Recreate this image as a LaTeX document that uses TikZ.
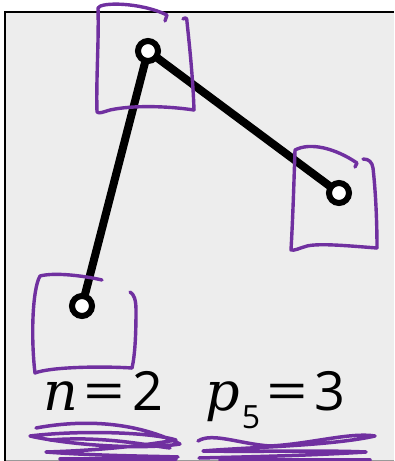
\documentclass[tikz,border=0pt]{standalone}
\usepackage{fontspec}
\newfontfamily\letterfont{DejaVu Serif}
\newfontfamily\digitsfont{Open Sans}
\usetikzlibrary{backgrounds}
\definecolor{pen}{RGB}{112,48,160}
\definecolor{paper}{RGB}{237,237,237}
\newcommand{\eqsign}{\kern6pt\scalebox{1.35}[1]{=}\kern7pt}

\tikzset{
  joint/.style={circle,draw=black,fill=white,line width=6pt,minimum size=20pt,inner sep=0pt},
  link/.style={line width=8pt,black},
  box/.style={pen,line width=3.4pt,line cap=round,line join=round},
  scribble/.style={pen,line width=3.5pt,line cap=round,line join=round}
}

\begin{document}
\begin{tikzpicture}[x=1pt,y=-1pt]

\useasboundingbox (0,0) rectangle (394,461);

%grid help
% \draw[gray, very thin] (0,0) grid[step=50] (394,461);

%Joints
\node[joint] (top) at (148,51) {};
\node[joint] (right) at (339,193) {};
\node[joint] (low) at (82,306) {};

\begin{scope}[on background layer]
% Board
		\fill[paper] (5,12) rectangle (394,460);
		\draw[black!40,line width=1pt] (5,460) -- (394,460);
		\draw[black,line width=2pt] (5,461) -- (5,12) -- (394,12);
%Links
\draw[link] (top.center) -- (right.center);
\draw[link] (top.center) -- (low.center);
\end{scope}

%Box round the top joint
\draw[box] (194,110) .. controls (167,106) and (133,105) .. (110,110) .. controls (103,112) and (99,114) .. (97,112)
   .. controls (96,80) and (99,40) .. (98,8) .. controls (100,2) and (140,2) .. (167,15) -- (165,21);
\draw[box] (183,19) .. controls (186,17) and (187,18) .. (187,22) .. controls (190,50) and (193,80) .. (194,110);

%Box round the right joint
\draw[box] (377,248) .. controls (350,246) and (320,243) .. (307,246) .. controls (300,248) and (294,251) .. (291,250)
   .. controls (293,215) and (294,180) .. (295,150) .. controls (310,142) and (335,148) .. (357,163) -- (355,167);
\draw[box] (363,159) .. controls (369,159) and (372,162) .. (373,168) .. controls (376,195) and (377,225) .. (377,248);

%Box round the lower joint
\draw[box] (102,280) .. controls (85,276) and (55,272) .. (40,276) .. controls (32,290) and (31,340) .. (35,373)
   .. controls (50,367) and (100,366) .. (132,368);
\draw[box] (130,292) .. controls (134,294) and (136,300) .. (136,310) .. controls (136,335) and (135,355) .. (132,368);

%Labels
\node[anchor=base west,inner sep=0pt] (nlabel) at (43,410)
  {\fontsize{54}{54}\selectfont{\letterfont\itshape n}{\digitsfont\eqsign 2}};
\node[anchor=base west,inner sep=0pt] (plabel) at (205,410)
  {\fontsize{54}{54}\selectfont{\letterfont\itshape p}\kern2pt\raisebox{-18pt}{\fontsize{32}{32}\selectfont\digitsfont 5}{\digitsfont\eqsign 3}};

%Scribble under n=2
\draw[scribble] (36,428) .. controls (90,418) and (140,424) .. (180,444)
  .. controls (140,450) and (70,445) .. (30,436) .. controls (80,430) and (150,432) .. (176,440)
  .. controls (130,448) and (80,451) .. (46,452) .. controls (100,456) and (150,456) .. (178,457);
\draw[scribble] (50,440) .. controls (100,436) and (140,444) .. (170,448);
\draw[scribble] (60,459) -- (176,459);

%Scribble under p_5=3
\draw[scribble] (198,441) .. controls (212,432) and (240,444) .. (270,446)
  .. controls (310,444) and (350,432) .. (375,436) .. controls (330,446) and (250,447) .. (203,451)
  .. controls (260,452) and (320,450) .. (366,452) .. controls (300,456) and (240,457) .. (199,458);
\draw[scribble] (220,460) -- (370,460);

\end{tikzpicture}
\end{document}
